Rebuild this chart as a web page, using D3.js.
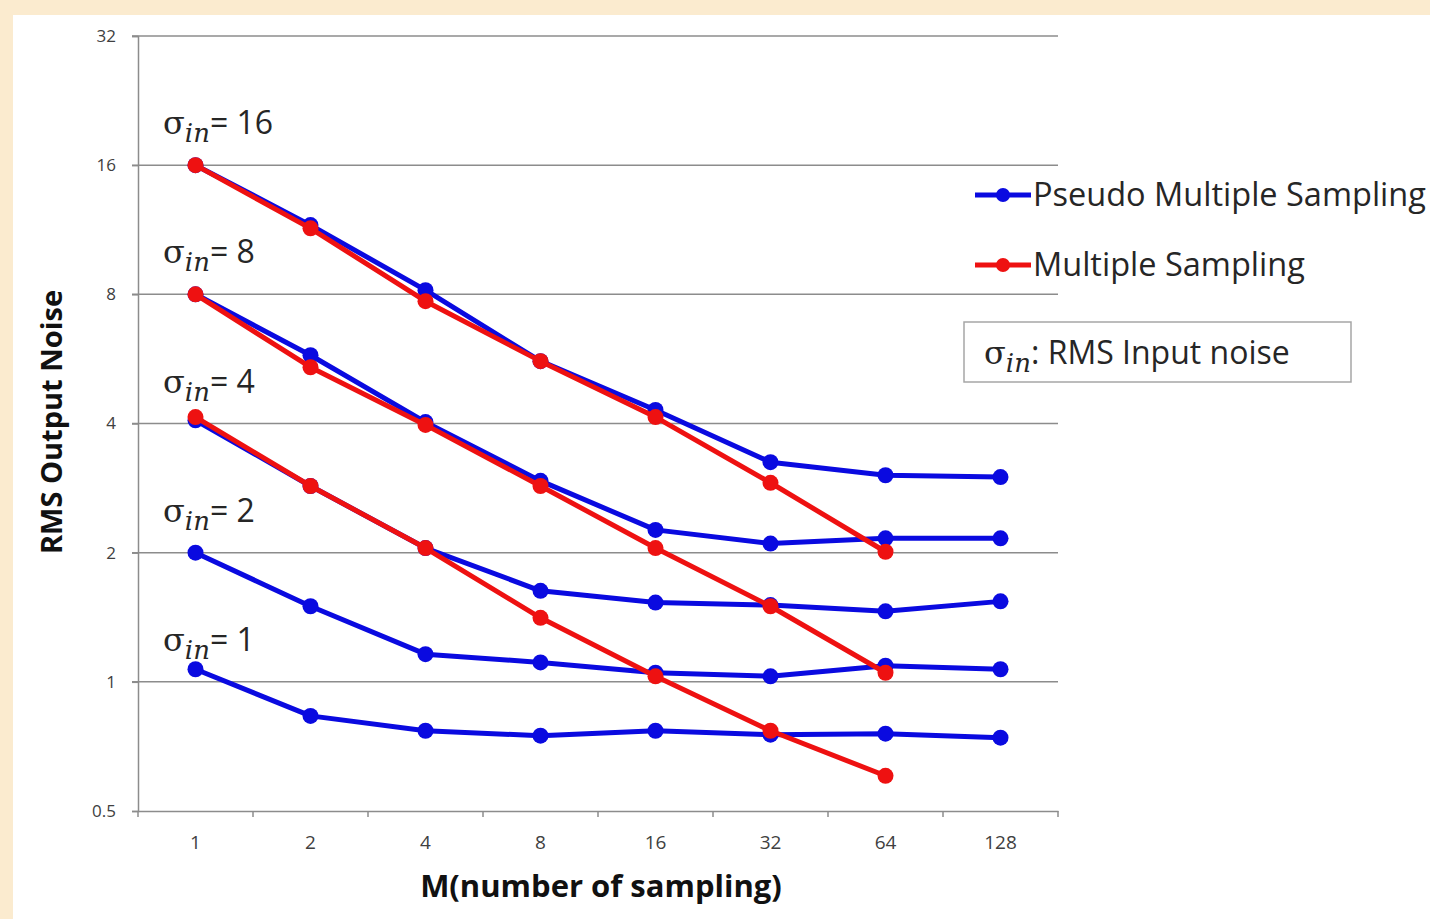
<!DOCTYPE html>
<html>
<head>
<meta charset="utf-8">
<script src="https://cdn.jsdelivr.net/npm/d3@7"></script>
<style>
  body { margin: 0; background: #fbebcf; }
  svg { display: block; }
  .tick text { fill: #404040; font-family: "Open Sans", sans-serif; }
  .grid line { stroke: #8c8c8c; stroke-width: 1.5; }
  .sig { font-family: "Open Sans", sans-serif; font-size: 32px; fill: #262626; }
  .sig .g { font-family: "DejaVu Serif", serif; }
  .sig .sub { font-family: "DejaVu Serif", serif; font-style: italic; font-size: 26px; }
</style>
</head>
<body>
<svg id="chart" width="1430" height="919"></svg>
<script>
// categorias del eje X y valores
const samplings = ["1", "2", "4", "8", "16", "32", "64", "128"];
const yTicks = [0.5, 1, 2, 4, 8, 16, 32];

// Pseudo Multiple Sampling (azul)
const pseudo16 = [16, 11.6, 8.18, 5.59, 4.30, 3.25, 3.03, 3.0];
const pseudo8  = [8, 5.77, 4.03, 2.94, 2.26, 2.10, 2.16, 2.16];
const pseudo4  = [4.07, 2.86, 2.05, 1.63, 1.53, 1.51, 1.46, 1.54];
const pseudo2  = [2, 1.50, 1.16, 1.11, 1.05, 1.03, 1.09, 1.07];
const pseudo1  = [1.07, 0.833, 0.769, 0.749, 0.769, 0.753, 0.757, 0.741];

// Multiple Sampling (rojo), hasta M = 64
const multi16 = [16, 11.4, 7.71, 5.59, 4.14, 2.91, 2.01];
const multi8  = [8, 5.41, 3.97, 2.86, 2.05, 1.50, 1.05];
const multi4  = [4.14, 2.86, 2.05, 1.41, 1.03, 0.769, 0.604];

const sigmaLabels = ["16", "8", "4", "2", "1"];
const sigmaLabelY = [16, 8, 4, 2, 1];

const blue = "#0a0ae0";
const red = "#ee1111";

const svg = d3.select("#chart");

// panel blanco sobre fondo beige
svg.append("rect").attr("x", 0).attr("y", 0).attr("width", 1430).attr("height", 919).attr("fill", "#fbebcf");
svg.append("rect").attr("x", 13).attr("y", 15).attr("width", 1417).attr("height", 904).attr("fill", "#ffffff");

const x = d3.scaleBand().domain(samplings).range([138, 1058]);
const y = d3.scaleLog().base(2).domain([0.5, 32]).range([811, 36]);

// lineas de rejilla horizontales
svg.append("g").attr("class", "grid")
  .selectAll("line").data(yTicks.slice(1)).join("line")
  .attr("x1", 132).attr("x2", 1058)
  .attr("y1", d => y(d)).attr("y2", d => y(d));

// eje Y
const axisY = d3.axisLeft(y).tickValues(yTicks).tickFormat(d => d).tickSize(6).tickPadding(16);
const gy = svg.append("g").attr("transform", "translate(138,0)").call(axisY);
gy.select(".domain").attr("stroke", "#8c8c8c").attr("stroke-width", 1.5);
gy.selectAll(".tick line").attr("stroke", "#8c8c8c").attr("stroke-width", 1.5);
gy.selectAll(".tick text").attr("font-size", 17);

// eje X (marcas entre categorias)
const axisX = d3.axisBottom(x).tickSize(0).tickPadding(25);
const gx = svg.append("g").attr("transform", "translate(0,811)").call(axisX);
gx.select(".domain").attr("stroke", "#8c8c8c").attr("stroke-width", 1.5);
gx.selectAll(".tick text").attr("font-size", 19);
svg.append("g").selectAll("line").data(samplings).join("line")
  .attr("x1", d => x(d) + x.bandwidth()).attr("x2", d => x(d) + x.bandwidth())
  .attr("y1", 811).attr("y2", 817)
  .attr("stroke", "#8c8c8c").attr("stroke-width", 1.5);
svg.append("line").attr("x1", 138).attr("x2", 138).attr("y1", 811).attr("y2", 817)
  .attr("stroke", "#8c8c8c").attr("stroke-width", 1.5);

const line = d3.line().x((d, i) => x(samplings[i]) + x.bandwidth() / 2).y(d => y(d));

function drawSeries(values, color) {
  const g = svg.append("g");
  g.append("path").datum(values).attr("d", line)
    .attr("fill", "none").attr("stroke", color).attr("stroke-width", 5).attr("stroke-linejoin", "round");
  g.selectAll("circle").data(values).join("circle")
    .attr("cx", (d, i) => x(samplings[i]) + x.bandwidth() / 2)
    .attr("cy", d => y(d)).attr("r", 8).attr("fill", color);
}

[pseudo16, pseudo8, pseudo4, pseudo2, pseudo1].forEach(s => drawSeries(s, blue));
[multi16, multi8, multi4].forEach(s => drawSeries(s, red));

// etiquetas sigma_in
function sigmaText(sel, rest) {
  sel.append("tspan").attr("class", "g").text("σ");
  sel.append("tspan").attr("class", "sub").attr("dy", 8).text("in");
  sel.append("tspan").attr("dy", -8).text(rest);
}
sigmaLabels.forEach((lab, i) => {
  const t = svg.append("text").attr("class", "sig")
    .attr("x", 163).attr("y", y(sigmaLabelY[i]) - 31);
  sigmaText(t, "= " + lab);
});

// leyenda
const legend = [["Pseudo Multiple Sampling", blue], ["Multiple Sampling", red]];
legend.forEach(([name, color], i) => {
  const ly = 195 + i * 70;
  svg.append("line").attr("x1", 975).attr("x2", 1031).attr("y1", ly).attr("y2", ly)
    .attr("stroke", color).attr("stroke-width", 5);
  svg.append("circle").attr("cx", 1003).attr("cy", ly).attr("r", 7).attr("fill", color);
  svg.append("text").attr("x", 1033).attr("y", ly + 11)
    .attr("font-family", "Open Sans, sans-serif").attr("font-size", 32.5).attr("fill", "#262626")
    .text(name);
});

// recuadro de nota
svg.append("rect").attr("x", 964).attr("y", 322).attr("width", 387).attr("height", 60)
  .attr("fill", "#fff").attr("stroke", "#a6a6a6").attr("stroke-width", 1.5);
const note = svg.append("text").attr("class", "sig").attr("x", 984).attr("y", 364);
sigmaText(note, ": RMS Input noise");

// titulos de ejes
svg.append("text").attr("transform", "translate(62,422) rotate(-90)")
  .attr("text-anchor", "middle").attr("font-family", "Open Sans, sans-serif")
  .attr("font-weight", "bold").attr("font-size", 29).attr("fill", "#111")
  .text("RMS Output Noise");
svg.append("text").attr("x", 601).attr("y", 897)
  .attr("text-anchor", "middle").attr("font-family", "Open Sans, sans-serif")
  .attr("font-weight", "bold").attr("font-size", 31).attr("fill", "#111")
  .text("M(number of sampling)");
</script>
</body>
</html>
